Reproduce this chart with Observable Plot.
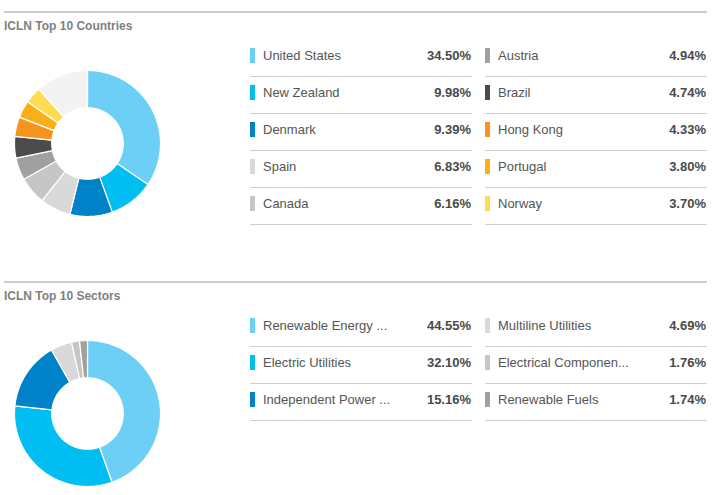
<!DOCTYPE html>
<html><head><meta charset="utf-8">
<script src="https://cdn.jsdelivr.net/npm/d3@7"></script>
<script src="https://cdn.jsdelivr.net/npm/@observablehq/plot@0.6"></script>
<style>
body{margin:0;background:#fff;font-family:"Liberation Sans",Arial,sans-serif;}
#page{position:relative;width:717px;height:495px;overflow:hidden;background:#fff;}
.section{position:absolute;left:0;width:717px;height:270px;}
.rule{position:absolute;left:4px;top:11px;width:703px;height:2px;background:#cccccc;}
.title{position:absolute;left:4px;top:19px;font-weight:bold;font-size:12px;line-height:14px;color:#7f7f7f;white-space:nowrap;}
.donut{position:absolute;left:0;top:55.5px;}
.col{position:absolute;top:40px;width:222px;}
.row{position:relative;height:36px;border-bottom:1px solid #cfcfcf;font-size:13px;line-height:31px;}
.sw{position:absolute;left:0;top:8px;width:5px;height:15px;}
.lab{position:absolute;left:13px;top:0;color:#555;white-space:nowrap;}
.val{position:absolute;right:1px;top:0;color:#4a4a4a;font-weight:bold;}
</style></head>
<body><div id="page"></div>
<script>
// ---- data ----
const countryNames = ["United States","New Zealand","Denmark","Spain","Canada","Austria","Brazil","Hong Kong","Portugal","Norway"];
const countryValues = [34.50, 9.98, 9.39, 6.83, 6.16, 4.94, 4.74, 4.33, 3.80, 3.70];
const countryColors = ["#6dcff6","#00bdf2","#0082c8","#d9d9d9","#c6c6c6","#a0a0a0","#4b4b4d","#f7941d","#fbae17","#ffdb4f"];
const otherName = "Other";
const otherColor = "#f3f3f3";

const sectorNames = ["Renewable Energy ...","Electric Utilities","Independent Power ...","Multiline Utilities","Electrical Componen...","Renewable Fuels"];
const sectorValues = [44.55, 32.10, 15.16, 4.69, 1.76, 1.74];
const sectorColors = ["#6dcff6","#00bdf2","#0082c8","#d9d9d9","#c6c6c6","#a0a0a0"];

const page = document.getElementById("page");

function donut(names, values, colors) {
  const rows = names.map((n, i) => ({name: n, value: values[i]}));
  const total = d3.sum(values);
  let domain = names.slice(), range = colors.slice();
  if (total < 99.99) {
    rows.push({name: otherName, value: 100 - total});
    domain.push(otherName); range.push(otherColor);
  }
  const arcs = d3.pie().sort(null).value(d => d.value).startAngle(0).endAngle(2 * Math.PI)(rows);
  const inner = 0.49;
  const pts = [];
  arcs.forEach(a => {
    const n = Math.max(2, Math.ceil((a.endAngle - a.startAngle) / 0.01));
    const ring = [];
    for (let i = 0; i <= n; i++) {
      const t = a.startAngle + (a.endAngle - a.startAngle) * i / n;
      ring.push({name: a.data.name, x: Math.sin(t), y: Math.cos(t)});
    }
    for (let i = n; i >= 0; i--) {
      const t = a.startAngle + (a.endAngle - a.startAngle) * i / n;
      ring.push({name: a.data.name, x: inner * Math.sin(t), y: inner * Math.cos(t)});
    }
    ring.push({...ring[0]});
    pts.push(...ring);
  });
  return Plot.plot({
    width: 174, height: 174,
    marginLeft: 14, marginRight: 14, marginTop: 14, marginBottom: 14,
    x: {domain: [-1, 1], axis: null},
    y: {domain: [-1, 1], axis: null},
    color: {domain, range},
    style: {background: "transparent", overflow: "visible"},
    marks: [
      Plot.line(pts, {x: "x", y: "y", z: "name", fill: "name", stroke: "white", strokeWidth: 1.2, strokeLinejoin: "round", curve: "linear"})
    ]
  });
}

function section(top, title, names, values, colors) {
  const s = document.createElement("div");
  s.className = "section"; s.style.top = top + "px";
  s.innerHTML = `<div class="rule"></div><div class="title">${title}</div>`;
  const d = donut(names, values, colors);
  d.classList.add("donut");
  s.appendChild(d);
  const half = Math.ceil(names.length / 2);
  [[0, 250], [1, 485]].forEach(([c, left]) => {
    const col = document.createElement("div");
    col.className = "col"; col.style.left = left + "px";
    for (let i = c * half; i < Math.min(names.length, (c + 1) * half); i++) {
      const r = document.createElement("div");
      r.className = "row";
      r.innerHTML = `<div class="sw" style="background:${colors[i]}"></div><div class="lab">${names[i]}</div><div class="val">${values[i].toFixed(2)}%</div>`;
      col.appendChild(r);
    }
    s.appendChild(col);
  });
  page.appendChild(s);
}

section(0, "ICLN Top 10 Countries", countryNames, countryValues, countryColors);
section(270, "ICLN Top 10 Sectors", sectorNames, sectorValues, sectorColors);
</script></body></html>
